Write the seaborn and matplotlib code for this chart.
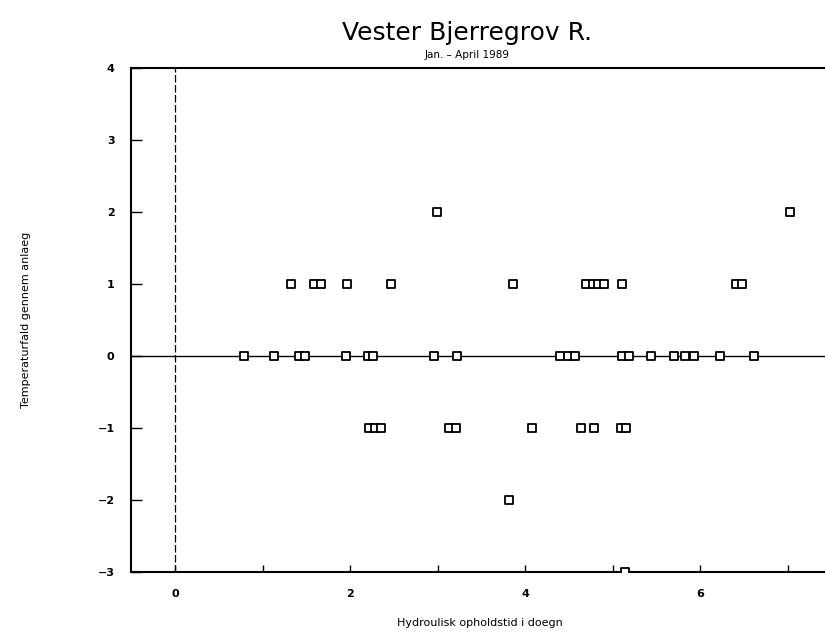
import pandas as pd
import matplotlib.pyplot as plt
from matplotlib.ticker import MultipleLocator
import seaborn as sns

# Data
x_lvl2 = [2.99, 7.02]
x_lvl1 = [1.33, 1.59, 1.67, 1.97, 2.47, 3.86, 4.69, 4.77, 4.83, 4.90, 5.10, 6.41, 6.48]
x_lvl0 = [0.79, 1.13, 1.42, 1.49, 1.95, 2.20, 2.26, 2.96, 3.22, 4.40, 4.49, 4.57,
          5.11, 5.19, 5.43, 5.70, 5.82, 5.93, 6.22, 6.61]
x_lvlm1 = [2.21, 2.28, 2.35, 3.13, 3.21, 4.08, 4.64, 4.79, 5.09, 5.15]
x_lvlm2 = [3.81]
x_lvlm3 = [5.14]

levels = {2: x_lvl2, 1: x_lvl1, 0: x_lvl0, -1: x_lvlm1, -2: x_lvlm2, -3: x_lvlm3}
rows = [(x, y) for y, xs in levels.items() for x in xs]
df = pd.DataFrame(rows, columns=['opholdstid', 'temperaturfald'])

sns.set_style('white')
plt.rcParams['font.family'] = ['DejaVu Sans']
plt.rcParams['text.color'] = 'black'
plt.rcParams['axes.labelcolor'] = 'black'
plt.rcParams['xtick.color'] = 'black'
plt.rcParams['ytick.color'] = 'black'

fig = plt.figure(figsize=(8.25, 6.35), dpi=100)
ax = fig.add_axes([0.159, 0.099, 0.845, 0.794])

ax.axhline(0, color='black', lw=1.0, zorder=1)
ax.axvline(0, color='black', lw=0.9, ls=(0, (6, 2)), zorder=1)

sns.scatterplot(data=df, x='opholdstid', y='temperaturfald', ax=ax, marker='s',
                s=34, facecolor='white', edgecolor='black', linewidth=1.3, zorder=3)

ax.set_xlim(-0.5, 7.46)
ax.set_ylim(-3, 4)
ax.xaxis.set_minor_locator(MultipleLocator(1))
ax.tick_params(axis='x', which='both', bottom=True, direction='in', length=5, width=1,
               labelsize=8, pad=12)
ax.tick_params(axis='y', which='major', left=True, direction='in', length=8, width=1,
               labelsize=8, pad=12)
ax.set_xticks([0, 2, 4, 6])
ax.set_xticklabels(['0', '2', '4', '6'], fontweight='bold')
ax.set_yticks(range(-3, 5))
ax.set_yticklabels([str(t).replace('-', '\u2212') for t in range(-3, 5)], fontweight='bold')

for side in ['top', 'left', 'bottom']:
    ax.spines[side].set_linewidth(1.5)
    ax.spines[side].set_color('black')
ax.spines['right'].set_visible(False)

ax.set_xlabel('Hydroulisk opholdstid i doegn', fontsize=8, labelpad=14)
ax.set_ylabel('Temperaturfald gennem anlaeg', fontsize=8, labelpad=48)

fig.text(0.566, 0.948, 'Vester Bjerregrov R.', ha='center', va='center', fontsize=18, color='black')
fig.text(0.566, 0.913, 'Jan. \u2013 April 1989', ha='center', va='center', fontsize=7.5, color='black')

fig.savefig('out.png', dpi=100)
